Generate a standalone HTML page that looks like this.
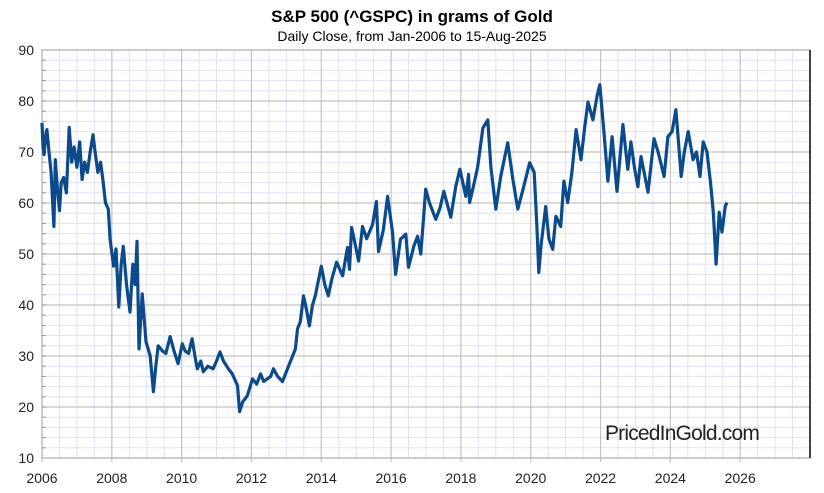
<!DOCTYPE html>
<html><head><meta charset="utf-8"><style>
body{margin:0;background:#fff;width:824px;height:488px;overflow:hidden}
svg text{font-family:"Liberation Sans",sans-serif}
</style></head><body>
<svg id="chart" width="824" height="488">
<text x="412" y="22" text-anchor="middle" font-size="17" font-weight="bold" fill="#000">S&amp;P 500 (^GSPC) in grams of Gold</text>
<text x="412" y="41" text-anchor="middle" font-size="14" fill="#000">Daily Close, from Jan-2006 to 15-Aug-2025</text>
<g id="grid"></g>
<g id="axes"></g>
<text x="682" y="440" text-anchor="middle" font-size="21" fill="#222" letter-spacing="-0.8">PricedInGold.com</text>
<g id="series"></g>
</svg>
<script>
const yTicks=[10,20,30,40,50,60,70,80,90];
const xTicks=[2006,2008,2010,2012,2014,2016,2018,2020,2022,2024,2026];
const years=[2006.0,2006.03,2006.06,2006.1,2006.14,2006.2,2006.26,2006.34,2006.38,2006.45,2006.5,2006.55,2006.62,2006.7,2006.78,2006.85,2006.92,2007.0,2007.08,2007.15,2007.22,2007.3,2007.38,2007.46,2007.52,2007.6,2007.68,2007.75,2007.82,2007.9,2007.95,2008.05,2008.12,2008.2,2008.27,2008.33,2008.42,2008.52,2008.6,2008.67,2008.72,2008.78,2008.87,2008.98,2009.1,2009.19,2009.26,2009.33,2009.45,2009.55,2009.67,2009.78,2009.9,2010.02,2010.1,2010.2,2010.3,2010.38,2010.45,2010.55,2010.62,2010.75,2010.9,2011.0,2011.1,2011.2,2011.34,2011.45,2011.6,2011.66,2011.75,2011.88,2012.03,2012.15,2012.26,2012.35,2012.45,2012.55,2012.63,2012.75,2012.89,2013.06,2013.18,2013.26,2013.32,2013.4,2013.49,2013.58,2013.66,2013.75,2013.83,2014.0,2014.1,2014.2,2014.3,2014.44,2014.61,2014.75,2014.81,2014.87,2014.97,2015.07,2015.18,2015.3,2015.47,2015.58,2015.64,2015.78,2015.9,2016.04,2016.13,2016.27,2016.42,2016.5,2016.65,2016.76,2016.85,2016.99,2017.1,2017.28,2017.4,2017.51,2017.71,2017.85,2017.97,2018.14,2018.22,2018.25,2018.35,2018.48,2018.63,2018.77,2018.86,2019.0,2019.14,2019.34,2019.49,2019.63,2019.8,2019.97,2020.1,2020.18,2020.23,2020.3,2020.43,2020.52,2020.63,2020.72,2020.86,2020.95,2021.06,2021.18,2021.3,2021.44,2021.55,2021.64,2021.78,2021.9,2021.98,2022.1,2022.21,2022.33,2022.47,2022.64,2022.78,2022.87,2022.97,2023.07,2023.16,2023.36,2023.53,2023.65,2023.82,2023.93,2024.05,2024.16,2024.31,2024.4,2024.51,2024.65,2024.75,2024.85,2024.94,2025.05,2025.15,2025.23,2025.31,2025.4,2025.48,2025.57,2025.62];
const values=[75.7,71,69.5,73,74.4,70,66,55.4,68.5,62,58.5,64,65,62,74.8,68,71,67,72,64.6,68,66,70,73.4,70,66,68,64.2,60,58.8,52.9,47.6,51,39.6,48,51.5,44,38.6,48,44,52.5,31.4,42.2,32.8,30,23,28,32,31,30.5,33.8,31,28.5,32.4,31,30.5,33.4,30,27.5,29,26.9,28,27.5,29,30.8,29,27.5,26.5,24.2,19.1,21,22.2,25.5,24.5,26.5,25,25.5,26,27.5,26,25,28,30,31.4,35.3,36.7,41.8,39,35.9,40,41.8,47.6,44,41.8,45,48.4,45.7,51.3,47,55.2,52,48.6,55.4,53,55.8,60.3,50.5,54.8,61.3,54.3,46,52.9,53.9,47.4,51.5,53.5,50,62.7,60,56.8,59,62.3,57.2,63.2,66.6,61.3,65.6,60.1,63,67.1,74.7,76.3,67,58.8,65.2,71.8,64.6,58.8,63.2,67.9,66,55,46.4,52,59.3,53,50.9,57.4,55.4,64.3,60.1,66,74.4,68.5,75,79.8,76.3,81,83.2,73.8,64.3,73,62.3,75.4,66.6,72,67,63.2,69.1,62.1,72.6,70,65.2,73,74,78.3,65.2,70,74,68.5,70,65.2,72,70,64,58.2,48,58.2,54.3,59.3,60.1];
const L=42,R=810,T=50,B=458,x0=2006,x1=2028,y0=10,y1=90;
const sx=v=>L+(v-x0)/(x1-x0)*(R-L);
const sy=v=>B-(v-y0)/(y1-y0)*(B-T);
const NS='http://www.w3.org/2000/svg';
function mk(tag,at,parent){const e=document.createElementNS(NS,tag);for(const k in at)e.setAttribute(k,at[k]);parent.appendChild(e);return e;}
const grid=document.getElementById('grid'),axes=document.getElementById('axes'),series=document.getElementById('series');
for(let y=y0;y<=y1;y+=2){if(y%10===0)continue;const l=mk('line',{x1:L,x2:R,y1:sy(y),y2:sy(y),stroke:'#e2e2f6','stroke-width':1},grid);

}
for(let x=x0;x<=x1;x+=0.5){if(x%2===0)continue;const l=mk('line',{x1:sx(x),x2:sx(x),y1:T,y2:B,stroke:'#e2e2f6','stroke-width':1},grid);

}
yTicks.forEach(v=>{const l=mk('line',{x1:L,x2:R,y1:sy(v),y2:sy(v),stroke:'#c4c4c4','stroke-width':1.2},grid);


const t=mk('text',{x:L-8,y:sy(v)+5,'text-anchor':'end','font-size':14,fill:'#222'},axes);t.textContent=v;

});
for(let y=y0;y<y1;y+=2){const tk=mk('line',{x1:L,x2:L+4,y1:sy(y),y2:sy(y),stroke:'#999'},axes);

}
xTicks.forEach(v=>{const l=mk('line',{x1:sx(v),x2:sx(v),y1:T,y2:B+4,stroke:'#c4c4c4','stroke-width':1.2},grid);


const t=mk('text',{x:sx(v),y:B+25,'text-anchor':'middle','font-size':14,fill:'#222'},axes);t.textContent=v;

});
const fr=mk('rect',{x:L,y:T,width:R-L,height:B-T,fill:'none',stroke:'#aaa','stroke-width':1},axes);


const rl=mk('line',{x1:R,x2:R,y1:T,y2:B,stroke:'#000','stroke-width':1.5},axes);


const d=years.map((y,i)=>(i?'L':'M')+sx(y).toFixed(1)+','+sy(values[i]).toFixed(1)).join('');
const p=mk('path',{d:d,fill:'none',stroke:'#0b4a8b','stroke-width':3.2,'stroke-linejoin':'round'},series);


</script>
</body></html>
